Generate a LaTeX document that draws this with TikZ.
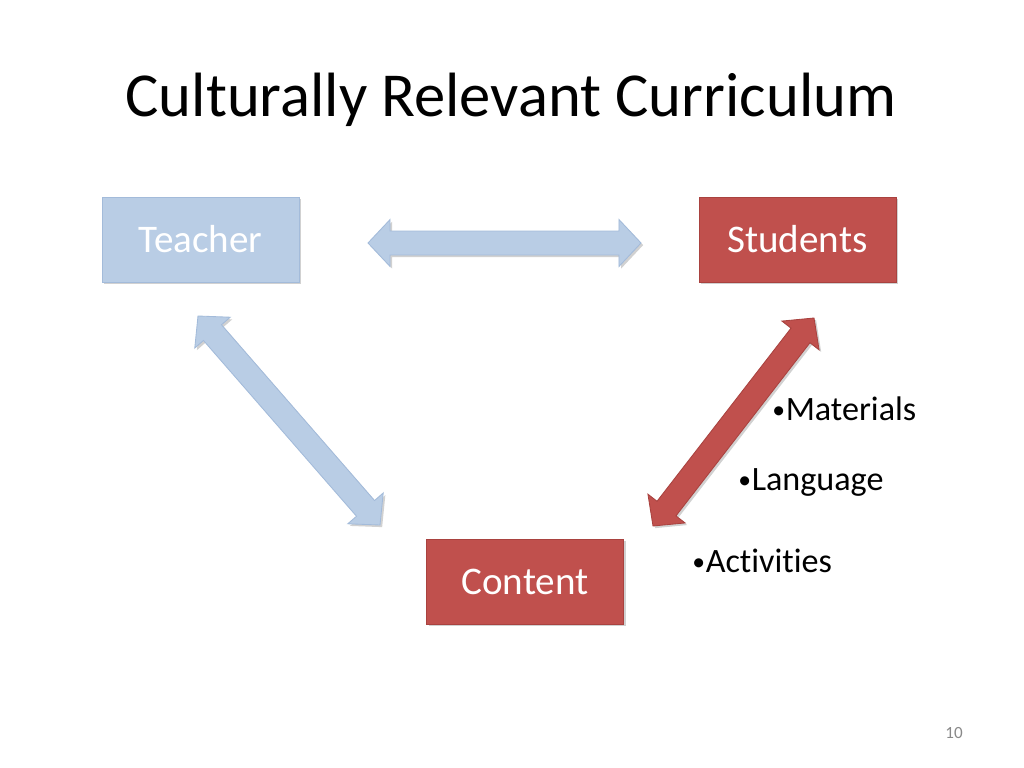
\documentclass[tikz,border=0pt]{standalone}
\usepackage{fontspec}
\setmainfont{Carlito}[Ligatures=NoCommon]
\usetikzlibrary{calc,shadows}
\definecolor{lblue}{HTML}{B9CDE5}
\definecolor{lblueedge}{HTML}{A3BBDA}
\definecolor{dred}{HTML}{C0504D}
\definecolor{dredge}{HTML}{A9423F}
\definecolor{pgnum}{HTML}{898989}
\tikzset{
  px/.style={x=0.703125bp,y=-0.703125bp},
  shadowed/.style={drop shadow={shadow xshift=1.5bp,shadow yshift=-1.5bp,opacity=0.18,fill=black}},
  bluebox/.style={rectangle,fill=lblue,draw=lblueedge,line width=0.6bp,minimum width=138.5bp,minimum height=59.8bp,text=white,font=\fontsize{27.5bp}{33bp}\selectfont,inner sep=0pt,shadowed},
  redbox/.style={bluebox,fill=dred,draw=dredge},
  bluearrow/.style={fill=lblue,draw=lblueedge,line width=0.6bp,line join=miter,shadowed},
  redarrow/.style={fill=dred,draw=dredge,line width=0.6bp,line join=miter,shadowed},
  bullettext/.style={anchor=base west,inner sep=0pt,font=\fontsize{24bp}{29bp}\selectfont},
}
\newcommand{\smbullet}{{\fontsize{18bp}{18bp}\selectfont\raisebox{1.4bp}{•}}\hspace{0.5bp}}
% double block arrow between coordinates #1 and #2
\newcommand{\dblockarrow}[3]{%
  \path[#3]
    (#1)
    -- ($(#1)!\hl!(#2)!\hw!90:(#2)$)
    -- ($(#1)!\hl!(#2)!\sw!90:(#2)$)
    -- ($(#2)!\hl!(#1)!\sw!-90:(#1)$)
    -- ($(#2)!\hl!(#1)!\hw!-90:(#1)$)
    -- (#2)
    -- ($(#2)!\hl!(#1)!\hw!90:(#1)$)
    -- ($(#2)!\hl!(#1)!\sw!90:(#1)$)
    -- ($(#1)!\hl!(#2)!\sw!-90:(#2)$)
    -- ($(#1)!\hl!(#2)!\hw!-90:(#2)$)
    -- cycle;}
\def\hl{15.5bp}
\def\hw{16.5bp}
\def\sw{8.4bp}
\begin{document}
\begin{tikzpicture}[px]
\useasboundingbox[fill=white] (0,0) rectangle (1024,768);
% title
\node[anchor=base,inner sep=0pt,font=\fontsize{44bp}{53bp}\selectfont] (title) at (511,117) {Culturally Relevant Curriculum};
% boxes
\node[bluebox] (teacher) at (200.5,239.5) {Teacher};
\node[redbox] (students) at (797.5,239.5) {Students};
\node[redbox] (content) at (525,581.5) {Content};
% arrow end points
\coordinate (h1) at (368,243);
\coordinate (h2) at (641,243);
\coordinate (b1) at (198,316);
\coordinate (b2) at (380,525);
\coordinate (r1) at (814,318);
\coordinate (r2) at (653,526);
\dblockarrow{h1}{h2}{bluearrow}
\dblockarrow{b1}{b2}{bluearrow}
\dblockarrow{r1}{r2}{redarrow}
% bullet list
\node[bullettext] (mat) at (772,420) {\smbullet Materials};
\node[bullettext] (lang) at (738,490) {\smbullet Language};
\node[bullettext] (act) at (692,572) {\smbullet Activities};
% page number
\node[text=pgnum,font=\fontsize{12bp}{14bp}\selectfont,inner sep=0pt] (pg) at (954,733) {10};
\end{tikzpicture}
\end{document}
